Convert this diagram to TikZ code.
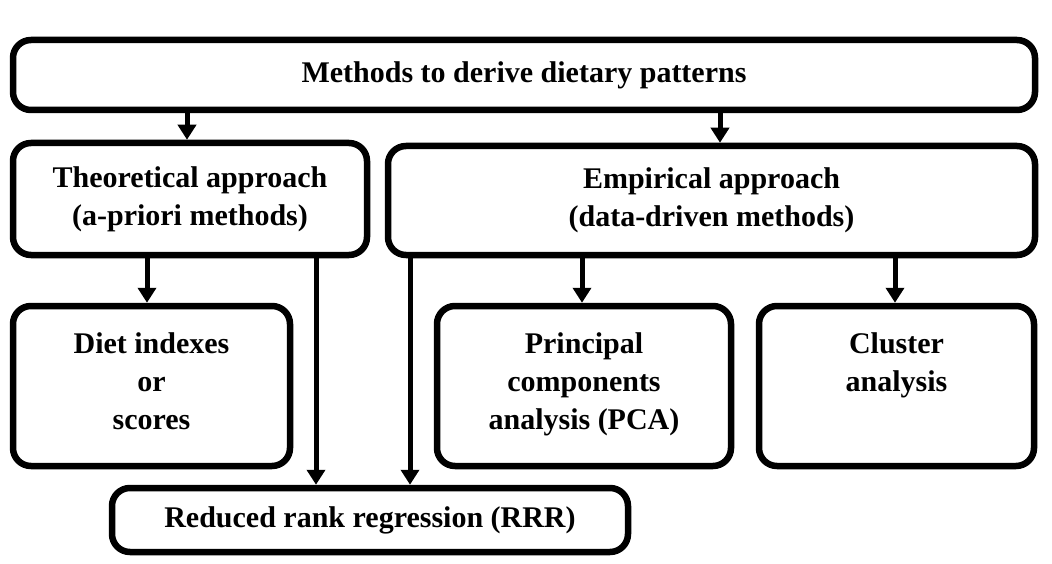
\documentclass[tikz,border=0pt]{standalone}
\usepackage{fontspec}
\setmainfont{Liberation Serif}
\usetikzlibrary{arrows.meta}
\begin{document}
\begin{tikzpicture}[x=1pt,y=-1pt,
  box/.style={draw,line width=6.5pt,rounded corners=18pt,inner sep=0pt,align=center,
    font=\fontsize{30}{38}\selectfont\bfseries},
  lbl/.style={font=\fontsize{30}{38}\selectfont\bfseries,align=center,inner sep=0pt},
  arr/.style={line width=5pt,-{Triangle[length=15pt,width=18pt]}}]
\useasboundingbox (0,0) rectangle (1052,564);
\node[box,minimum width=1022pt,minimum height=70pt] (top) at (524,75) {Methods to derive dietary patterns};
\node[box,minimum width=354pt,minimum height=112pt] (theo) at (190,199) {Theoretical approach\\(a-priori methods)};
\node[box,minimum width=647pt,minimum height=109pt] (emp) at (711.5,200.5) {Empirical approach\\(data-driven methods)};
\node[box,minimum width=277pt,minimum height=160pt] (diet) at (151.5,386) {};
\node[box,minimum width=294pt,minimum height=160pt] (pca) at (584,386) {};
\node[box,minimum width=275pt,minimum height=160pt] (clus) at (896.5,386) {};
\node[box,minimum width=516pt,minimum height=64pt] (rrr) at (370,520) {Reduced rank regression (RRR)};
\node[lbl,anchor=north] (dietT) at (151.5,332) {Diet indexes\\or\\scores};
\node[lbl,anchor=north] (pcaT) at (584,332) {Principal\\components\\analysis (PCA)};
\node[lbl,anchor=north] (clusT) at (896.5,332) {Cluster\\analysis};
\draw[arr] (187,0 |- top.south) -- (187,0 |- theo.north);
\draw[arr] (720,0 |- top.south) -- (720,0 |- emp.north);
\draw[arr] (147,0 |- theo.south) -- (147,0 |- diet.north);
\draw[arr] (316,0 |- theo.south) -- (316,0 |- rrr.north);
\draw[arr] (410,0 |- emp.south) -- (410,0 |- rrr.north);
\draw[arr] (582,0 |- emp.south) -- (582,0 |- pca.north);
\draw[arr] (895,0 |- emp.south) -- (895,0 |- clus.north);
\end{tikzpicture}
\end{document}
